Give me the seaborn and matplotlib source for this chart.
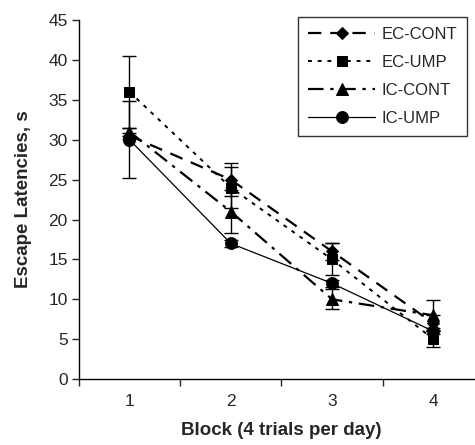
import numpy as np
import pandas as pd
import matplotlib
matplotlib.use("Agg")
import matplotlib.pyplot as plt
import seaborn as sns
from matplotlib.ticker import FixedLocator

blocks = [1, 2, 3, 4]
ec_cont = [30.5, 25.0, 16.0, 7.0]
ec_ump = [36.0, 24.0, 15.0, 5.0]
ic_cont = [31.0, 21.0, 10.0, 8.0]
ic_ump = [30.0, 17.0, 12.0, 6.0]
ec_cont_err = [0.4, 2.1, 1.1, 1.0]
ec_ump_err = [4.5, 2.6, 2.0, 1.0]
ic_cont_err = [0.5, 2.7, 1.25, 1.9]
ic_ump_err = [4.8, 0.4, 0.4, 0.4]
series_names = ["EC-CONT", "EC-UMP", "IC-CONT", "IC-UMP"]
yticks = [0, 5, 10, 15, 20, 25, 30, 35, 40, 45]

sns.set_style("white")
plt.rcParams['font.family'] = ['Liberation Sans', 'DejaVu Sans']

fig = plt.figure(figsize=(4.75, 4.45), dpi=100)
ax = fig.add_axes([0.166, 0.148, 0.853, 0.807])

vals = [ec_cont, ec_ump, ic_cont, ic_ump]
errs = [ec_cont_err, ec_ump_err, ic_cont_err, ic_ump_err]
markers = ["D", "s", "^", "o"]
msizes = [6.5, 7.5, 8.5, 8.5]
styles = [(0, (6, 4)), (0, (2, 3)), (0, (7, 3, 1.5, 3)), "-"]
lws = [1.6, 1.4, 1.6, 0.9]

for name, v, e, m, ms, ls, lw in zip(series_names, vals, errs, markers, msizes, styles, lws):
    df = pd.DataFrame({"Block": blocks, "Latency": v})
    ax.errorbar(blocks, v, yerr=e, fmt="none", ecolor="black", elinewidth=1.0,
                capsize=5, capthick=1.0, zorder=2)
    sns.lineplot(data=df, x="Block", y="Latency", ax=ax, color="black", marker=m,
                 markersize=ms, markeredgecolor="black", linestyle=ls, linewidth=lw,
                 label=name, zorder=3)

ax.set_xlim(0.5, 4.5)
ax.set_ylim(0, 45)
ax.set_yticks(yticks)
ax.set_xticks(blocks)
ax.xaxis.set_minor_locator(FixedLocator([0.5, 1.5, 2.5, 3.5, 4.5]))
ax.tick_params(axis="x", which="major", length=0, labelsize=12.5, pad=11)
ax.tick_params(axis="x", which="minor", length=5, width=1, direction="out", bottom=True)
ax.tick_params(axis="y", which="major", length=5, width=1, direction="out", left=True,
               labelsize=12.5, pad=3)
for s in ["top", "right"]:
    ax.spines[s].set_visible(False)
for s in ["left", "bottom"]:
    ax.spines[s].set_color("black")
    ax.spines[s].set_linewidth(1.0)

ax.set_xlabel("Block (4 trials per day)", fontsize=13.5, fontweight="bold", labelpad=9)
ax.set_ylabel("Escape Latencies, s", fontsize=13.5, fontweight="bold", labelpad=12)

leg = ax.legend(loc="upper right", bbox_to_anchor=(0.979, 1.031), frameon=True, fontsize=12,
                handlelength=4.0, labelspacing=0.78, borderpad=0.6, fancybox=False,
                edgecolor="black", handletextpad=0.4)
leg.get_frame().set_linewidth(1.0)

fig.savefig("out.png", dpi=100, facecolor="white")
